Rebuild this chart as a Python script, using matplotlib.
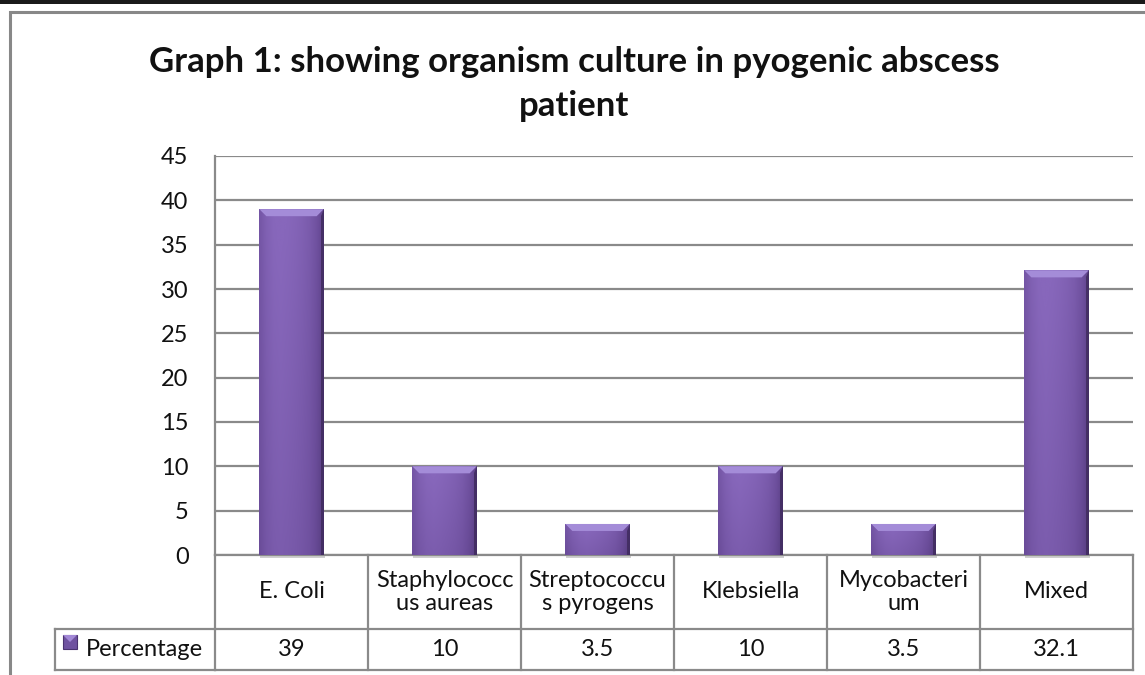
import numpy as np
import matplotlib
matplotlib.use("Agg")
import matplotlib.pyplot as plt
from matplotlib.patches import Rectangle, Polygon
from matplotlib.transforms import blended_transform_factory
from matplotlib.colors import LinearSegmentedColormap

# ---- data ----
categories = ["E. Coli", "Staphylococc\nus aureas", "Streptococcu\ns pyrogens",
              "Klebsiella", "Mycobacteri\num", "Mixed"]
values = [39, 10, 3.5, 10, 3.5, 32.1]
value_labels = ["39", "10", "3.5", "10", "3.5", "32.1"]
series_name = "Percentage"
title = "Graph 1: showing organism culture in pyogenic abscess\npatient"
yticks = [0, 5, 10, 15, 20, 25, 30, 35, 40, 45]

FONT = "Lato"
FS = 17
W, H = 1145, 675
fig = plt.figure(figsize=(W / 100, H / 100), dpi=100)
fig.patch.set_facecolor("white")

def fx(px):
    return px / W

def fy(py):
    return 1 - py / H

GRID = "#8a8a8a"

# top black rule and chart frame
fig.patches.append(Rectangle((0, fy(4)), 1, 4 / H, transform=fig.transFigure,
                             facecolor="#1a1a1a", edgecolor="none", zorder=-5))
fig.patches.append(Rectangle((fx(10), fy(H + 20)), 1.2, (H + 20 - 12) / H,
                             transform=fig.transFigure, facecolor="none",
                             edgecolor="#888888", linewidth=2.2, zorder=-5))

ax = fig.add_axes([fx(215), fy(555), fx(1133) - fx(215), fy(156) - fy(555)])
ax.set_facecolor("none")
n = len(categories)
x = np.arange(n)
ax.set_xlim(-0.5, n - 0.5)
ax.set_ylim(0, 45)
ax.set_yticks(yticks)
ax.set_yticklabels([str(t) for t in yticks], fontsize=FS, family=FONT, color="#111111")
ax.tick_params(axis="y", length=0, pad=19)
ax.set_xticks([])
for s in ["top", "right", "bottom"]:
    ax.spines[s].set_visible(False)
ax.spines["left"].set_color(GRID)
ax.spines["left"].set_linewidth(1.6)
ax.yaxis.grid(True, color=GRID, linewidth=1.6)
ax.set_axisbelow(True)

bar_w = 0.42
bars = ax.bar(x, values, width=bar_w, color="#7e5fb0", edgecolor="none", zorder=3)

# gradient fill clipped to each bar
hor = np.array([0.80, 0.93, 1.0, 1.02, 1.0, 0.97, 0.93, 0.87, 0.76, 0.60])
cmap = LinearSegmentedColormap.from_list("purp", ["#4a3370", "#6b4d9a", "#8767bb"])
ppx = (1133 - 215) / n  # pixels per x unit
ppy = (555 - 156) / 45.0  # pixels per y unit
for b in bars:
    x0, w, h = b.get_x(), b.get_width(), b.get_height()
    vert = np.linspace(0.86, 1.0, 60)[:, None]  # bottom darker
    img = np.clip(vert * np.interp(np.linspace(0, 9, 80), np.arange(10), hor)[None, :], 0, 1)
    im = ax.imshow(img, cmap=cmap, vmin=0.4, vmax=1.0, aspect="auto",
                   extent=[x0, x0 + w, 0, h], origin="lower", zorder=3.5,
                   interpolation="bilinear")
    im.set_clip_path(b)
    dx = 7 / ppx
    dy = 7 / ppy
    # top bevel
    ax.add_patch(Polygon([[x0, h], [x0 + w, h], [x0 + w - dx, h - dy], [x0 + dx, h - dy]],
                         closed=True, facecolor="#a48cd8", edgecolor="none", zorder=4))
    # right dark edge
    ax.add_patch(Polygon([[x0 + w, h], [x0 + w, 0], [x0 + w - 3 / ppx, 0], [x0 + w - 3 / ppx, h - dy]],
                         closed=True, facecolor="#3e2a5c", edgecolor="none", zorder=4, alpha=0.8))
    # shadow under bar
    ax.add_patch(Rectangle((x0 + 1 / ppx, -3 / ppy), w, 3 / ppy, facecolor="#bbbbbb",
                           edgecolor="none", zorder=2, clip_on=False, alpha=0.7))

ax.set_xlim(-0.5, n - 0.5)
ax.set_ylim(0, 45)

# ---- data table ----
tr = blended_transform_factory(ax.transData, fig.transFigure)
y_top, y_mid, y_bot = fy(555), fy(629), fy(670)
TL = dict(color=GRID, linewidth=1.6, clip_on=False)
ax.plot([-0.5, n - 0.5], [y_top, y_top], transform=tr, **TL)
ax.plot([-0.5, n - 0.5], [y_mid, y_mid], transform=tr, **TL)
ax.plot([-0.5, n - 0.5], [y_bot, y_bot], transform=tr, **TL)
for i in range(n + 1):
    ax.plot([i - 0.5, i - 0.5], [y_top, y_bot], transform=tr, **TL)
# legend cell
fig.lines.append(plt.Line2D([fx(55), fx(215)], [y_mid, y_mid], transform=fig.transFigure, color=GRID, linewidth=1.6))
fig.lines.append(plt.Line2D([fx(55), fx(215)], [y_bot, y_bot], transform=fig.transFigure, color=GRID, linewidth=1.6))
fig.lines.append(plt.Line2D([fx(55), fx(55)], [y_mid, y_bot], transform=fig.transFigure, color=GRID, linewidth=1.6))

for i, (c, v) in enumerate(zip(categories, value_labels)):
    ax.text(i, (y_top + y_mid) / 2, c, transform=tr, ha="center", va="center",
            fontsize=FS, family=FONT, color="#111111", linespacing=1.15)
    ax.text(i, (y_mid + y_bot) / 2, v, transform=tr, ha="center", va="center",
            fontsize=FS, family=FONT, color="#111111")

# legend key
fig.patches.append(Rectangle((fx(63), fy(649)), 14 / W, 14 / H, transform=fig.transFigure,
                             facecolor="#6f52a0", edgecolor="#4a3370", linewidth=0.8))
fig.patches.append(Polygon([[fx(63), fy(635)], [fx(77), fy(635)], [fx(70), fy(642)]],
                           closed=True, transform=fig.transFigure, facecolor="#a288d6", edgecolor="none"))
fig.text(fx(86), (y_mid + y_bot) / 2, series_name, ha="left", va="center",
         fontsize=FS, family=FONT, color="#111111")

# title
fig.text(fx(574), fy(84), title, ha="center", va="center", fontsize=25,
         fontweight="bold", family=FONT, color="#111111", linespacing=1.45)

fig.savefig("out.png", dpi=100)
